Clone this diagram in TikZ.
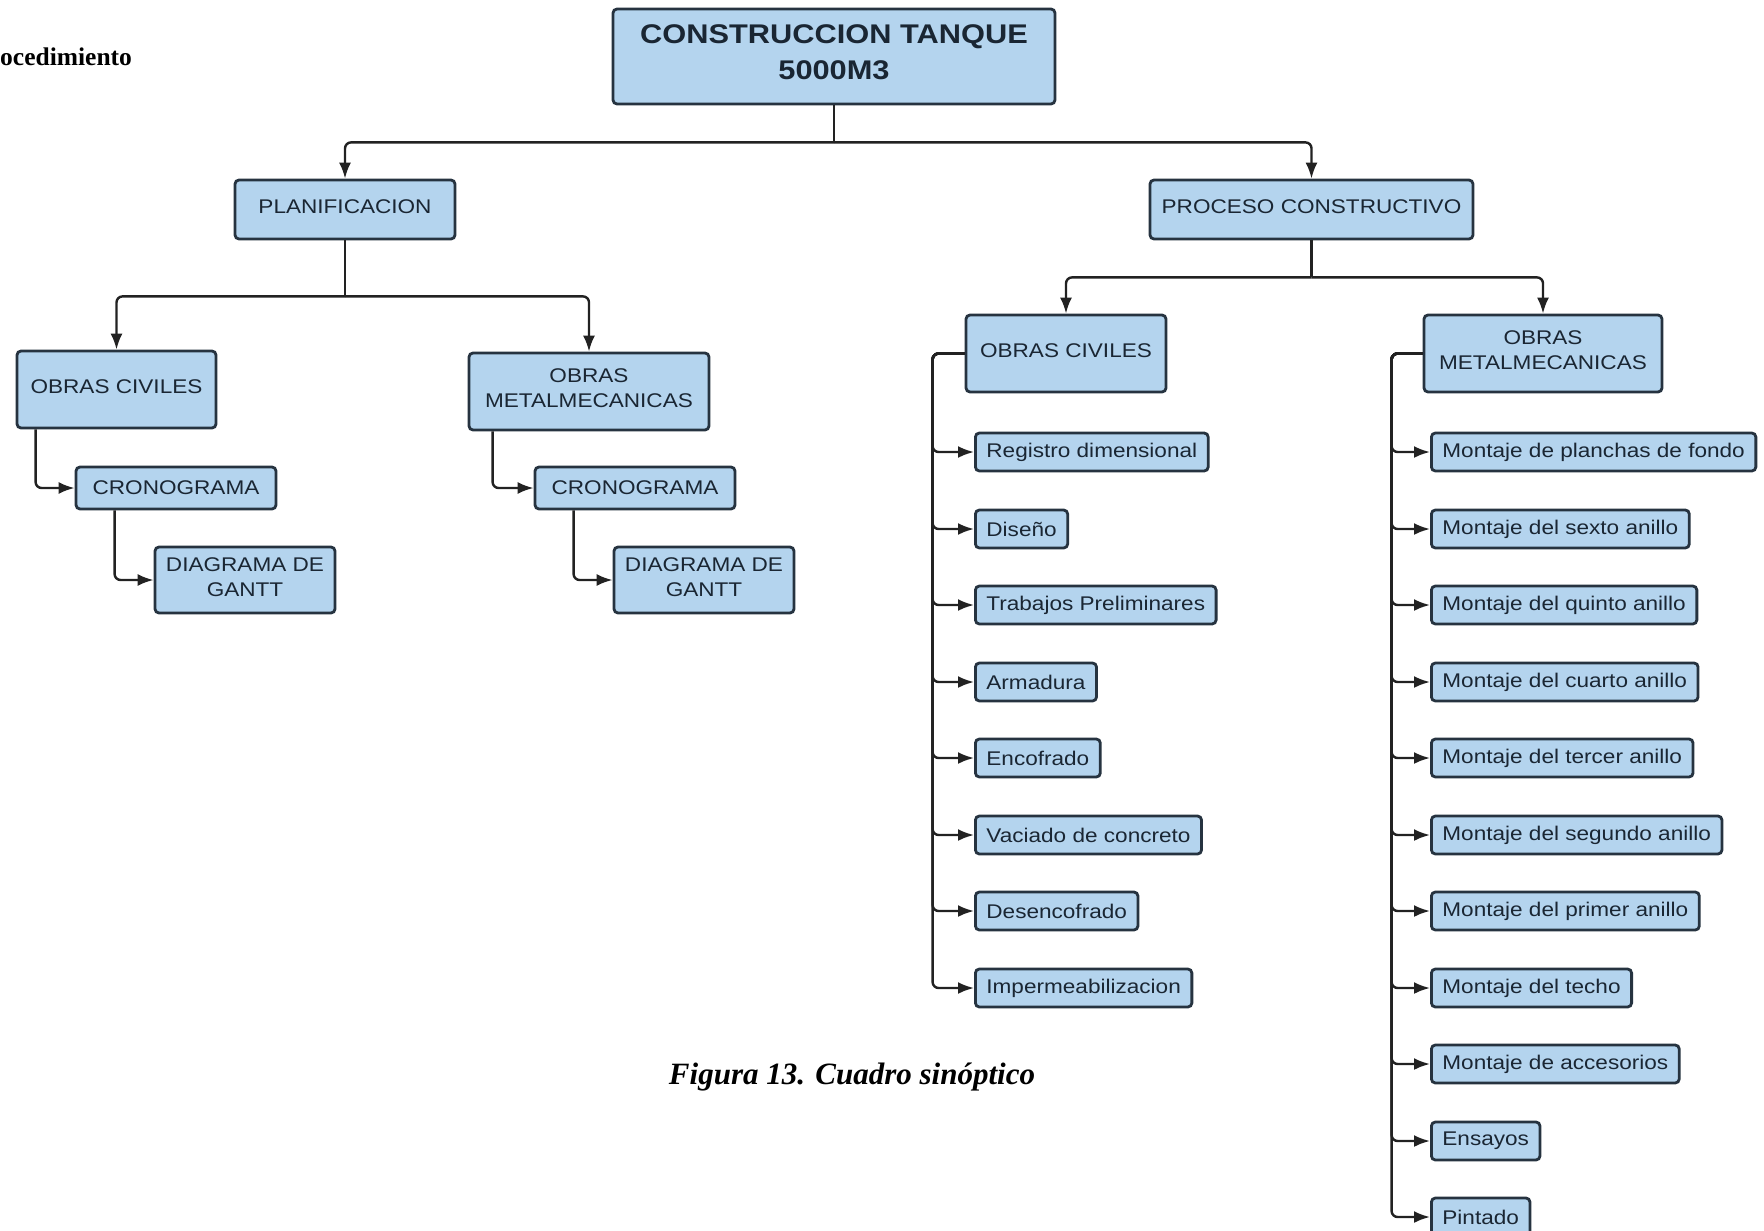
\documentclass[tikz,border=0pt]{standalone}
\usepackage{fontspec}
\setmainfont{Liberation Serif}
\newfontfamily\boxfont[FakeStretch=1.14]{Liberation Sans}
\usetikzlibrary{arrows.meta,calc}
\definecolor{boxfill}{HTML}{B4D4EE}
\definecolor{boxline}{HTML}{263340}
\definecolor{boxtext}{HTML}{1A2633}
\definecolor{wire}{HTML}{222222}
\tikzset{
  bx/.style={draw=boxline, fill=boxfill, line width=2.8pt, rounded corners=4pt,
    text=boxtext, font=\boxfont\fontsize{19.8}{25}\selectfont, align=center,
    inner sep=0pt},
  hbx/.style={bx, text depth=6pt},
  leaf/.style={bx, anchor=west, minimum height=38pt, inner xsep=11pt},
  wirearrow/.style={draw=wire, line width=2.4pt, rounded corners=6pt,
    -{Latex[length=16pt,width=12pt]}},
  wireline/.style={draw=wire, line width=2.4pt, rounded corners=6pt},
}
\begin{document}
\begin{tikzpicture}[x=1pt,y=-1pt]
\useasboundingbox (0,0) rectangle (1764,1231);
\fill[white] (0,0) rectangle (1764,1231);

\node[anchor=west, font=\bfseries\fontsize{25.5}{30}\selectfont, inner sep=0pt] (ttl) at (0,57) {ocedimiento};

% top level
\node[bx, text depth=8pt, minimum width=442pt, minimum height=95pt, font=\boxfont\bfseries\fontsize{27}{36}\selectfont] (root) at (834,56.5) {CONSTRUCCION TANQUE\\5000M3};
\node[hbx, minimum width=220pt, minimum height=59pt] (plan) at (345,209.5) {PLANIFICACION};
\node[hbx, minimum width=323pt, minimum height=59pt] (proc) at (1311.5,209.5) {PROCESO CONSTRUCTIVO};

% left branch
\node[hbx, minimum width=199pt, minimum height=77pt] (ocL) at (116.5,389.5) {OBRAS CIVILES};
\node[hbx, minimum width=240pt, minimum height=77pt] (omL) at (589,391.5) {OBRAS\\METALMECANICAS};
\node[bx, minimum width=200pt, minimum height=42pt] (cronL) at (176,488) {CRONOGRAMA};
\node[hbx, minimum width=180pt, minimum height=66pt] (ganttL) at (245,580) {DIAGRAMA DE\\GANTT};
\node[bx, minimum width=200pt, minimum height=42pt] (cronR) at (635,488) {CRONOGRAMA};
\node[hbx, minimum width=180pt, minimum height=66pt] (ganttR) at (704,580) {DIAGRAMA DE\\GANTT};

% right branch
\node[hbx, minimum width=200pt, minimum height=77pt] (ocR) at (1066,353.5) {OBRAS CIVILES};
\node[hbx, minimum width=238pt, minimum height=77pt] (omR) at (1543,353.5) {OBRAS\\METALMECANICAS};

% civil leaves
\node[leaf] (c1) at (974,452) {Registro dimensional};
\node[leaf] (c2) at (974,529) {Diseño};
\node[leaf] (c3) at (974,605) {Trabajos Preliminares};
\node[leaf] (c4) at (974,682) {Armadura};
\node[leaf] (c5) at (974,758) {Encofrado};
\node[leaf] (c6) at (974,835) {Vaciado de concreto};
\node[leaf] (c7) at (974,911) {Desencofrado};
\node[leaf] (c8) at (974,988) {Impermeabilizacion};

% metal leaves
\node[leaf] (m1) at (1430,452) {Montaje de planchas de fondo};
\node[leaf] (m2) at (1430,529) {Montaje del sexto anillo};
\node[leaf] (m3) at (1430,605) {Montaje del quinto anillo};
\node[leaf] (m4) at (1430,682) {Montaje del cuarto anillo};
\node[leaf] (m5) at (1430,758) {Montaje del tercer anillo};
\node[leaf] (m6) at (1430,835) {Montaje del segundo anillo};
\node[leaf] (m7) at (1430,911) {Montaje del primer anillo};
\node[leaf] (m8) at (1430,988) {Montaje del techo};
\node[leaf] (m9) at (1430,1064) {Montaje de accesorios};
\node[leaf] (m10) at (1430,1141) {Ensayos};
\node[leaf] (m11) at (1430,1217) {Pintado};

\node[font=\bfseries\itshape\fontsize{31}{36}\selectfont, inner sep=0pt] (cap) at (852,1077) {Figura 13. Cuadro sinóptico};

% connectors
\coordinate (j0) at ($(root.south)+(0,37)$);
\draw[wireline] (root.south) -- (j0);
\draw[wirearrow] (j0) -| (plan.north);
\draw[wirearrow] (j0) -| (proc.north);

\coordinate (j1) at ($(plan.south)+(0,56)$);
\draw[wireline] (plan.south) -- (j1);
\draw[wirearrow] (j1) -| (ocL.north);
\draw[wirearrow] (j1) -| (omL.north);

\draw[wirearrow] ([xshift=20pt]ocL.south west) |- (cronL.west);
\draw[wirearrow] ([xshift=40pt]cronL.south west) |- (ganttL.west);
\draw[wirearrow] ([xshift=25pt]omL.south west) |- (cronR.west);
\draw[wirearrow] ([xshift=40pt]cronR.south west) |- (ganttR.west);

\coordinate (j2) at ($(proc.south)+(0,37)$);
\draw[wireline] (proc.south) -- (j2);
\draw[wirearrow] (j2) -| (ocR.north);
\draw[wirearrow] (j2) -| (omR.north);

\coordinate (cv) at ($(ocR.west)+(-32,0)$);
\foreach \n in {c1,c2,c3,c4,c5,c6,c7,c8}
  \draw[wirearrow] (ocR.west) -- (cv) |- (\n.west);

\coordinate (mv) at ($(omR.west)+(-31,0)$);
\foreach \n in {m1,m2,m3,m4,m5,m6,m7,m8,m9,m10,m11}
  \draw[wirearrow] (omR.west) -- (mv) |- (\n.west);
\end{tikzpicture}
\end{document}
